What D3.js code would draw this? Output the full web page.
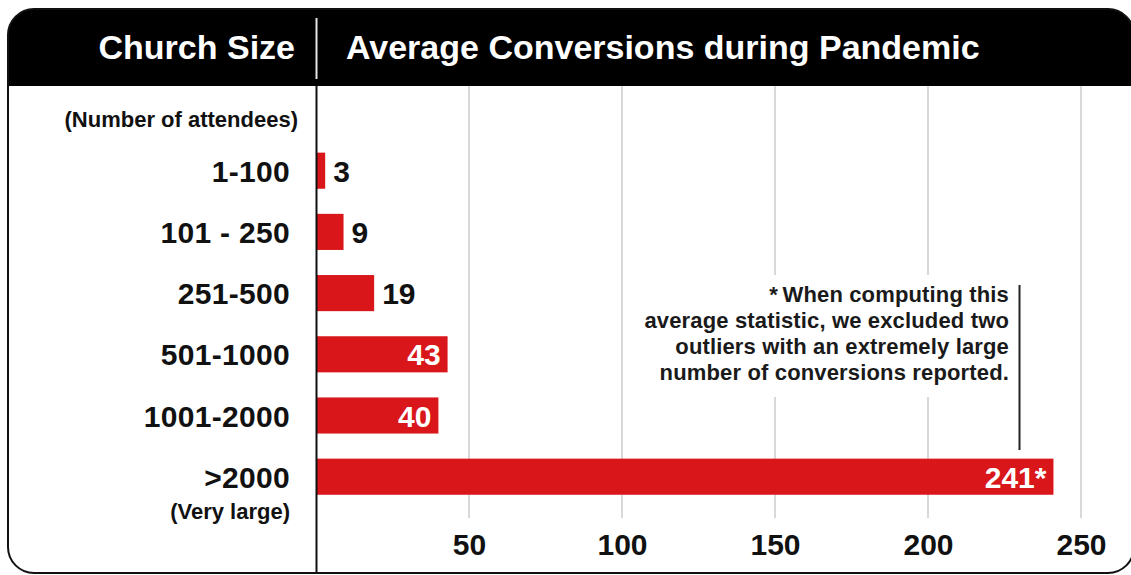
<!DOCTYPE html>
<html>
<head>
<meta charset="utf-8">
<script src="https://cdn.jsdelivr.net/npm/d3@7/dist/d3.min.js"></script>
<style>
  html, body { margin: 0; padding: 0; background: #fff; }
  svg { display: block; font-family: "Liberation Sans", Arial, Helvetica, sans-serif; }
</style>
</head>
<body>
<svg id="chart" width="1131" height="575"></svg>
<script>
// ---- data ----
const categories = ["1-100", "101 - 250", "251-500", "501-1000", "1001-2000", ">2000"];
const values = [3, 9, 19, 43, 40, 241];
const valueLabels = ["3", "9", "19", "43", "40", "241*"];
const labelInside = [false, false, false, true, true, true];
const tickValues = [50, 100, 150, 200, 250];
const headerLeft = "Church Size";
const headerRight = "Average Conversions during Pandemic";
const subLabelTop = "(Number of attendees)";
const subLabelBottom = "(Very large)";
const noteLines = [
  "*\u2009When computing this",
  "average statistic, we excluded two",
  "outliers with an extremely large",
  "number of conversions reported."
];

const RED = "#d9161a";
const svg = d3.select("#chart");

const x = d3.scaleLinear().domain([0, 250]).range([316, 1081]);
const y = d3.scaleBand().domain(categories).range([140.1, 507.3])
  .paddingInner(0.41).paddingOuter(0.205);

// outer frame
const boxX = 8, boxY = 9, boxW = 1126, boxH = 564, r = 26, headH = 77;
svg.append("defs").append("clipPath").attr("id", "boxclip")
  .append("rect").attr("x", boxX).attr("y", boxY).attr("width", boxW).attr("height", boxH).attr("rx", r);

const g = svg.append("g").attr("clip-path", "url(#boxclip)");
g.append("rect").attr("x", boxX).attr("y", boxY).attr("width", boxW).attr("height", boxH).attr("fill", "#fff");
// header band
g.append("rect").attr("x", boxX).attr("y", boxY).attr("width", boxW).attr("height", headH).attr("fill", "#000");

// gridlines
g.append("g").selectAll("line").data(tickValues).join("line")
  .attr("x1", d => x(d)).attr("x2", d => x(d))
  .attr("y1", boxY + headH).attr("y2", 518)
  .attr("stroke", "#cfcfcf").attr("stroke-width", 1.6);

// white backing for the note
g.append("rect").attr("x", 640).attr("y", 275).attr("width", 372).attr("height", 122).attr("fill", "#fff");

// bars
g.append("g").selectAll("rect").data(categories).join("rect")
  .attr("x", x(0))
  .attr("y", d => y(d))
  .attr("width", (d, i) => x(values[i]) - x(0))
  .attr("height", y.bandwidth())
  .attr("fill", RED);

// axis line
g.append("line").attr("x1", 316.5).attr("x2", 316.5).attr("y1", boxY + headH).attr("y2", 580)
  .attr("stroke", "#111").attr("stroke-width", 2);

// header divider
g.append("line").attr("x1", 316.5).attr("x2", 316.5).attr("y1", 18).attr("y2", 79)
  .attr("stroke", "#e6e6e6").attr("stroke-width", 2);

// header text
g.append("text").attr("x", 295).attr("y", 59).attr("text-anchor", "end")
  .attr("fill", "#fff").attr("font-weight", "bold").attr("font-size", 34)
  .text(headerLeft);
g.append("text").attr("x", 346).attr("y", 59).attr("text-anchor", "start")
  .attr("fill", "#fff").attr("font-weight", "bold").attr("font-size", 34)
  .text(headerRight);

// category labels
g.append("text").attr("x", 298).attr("y", 126.5).attr("text-anchor", "end")
  .attr("fill", "#111").attr("font-weight", "bold").attr("font-size", 22)
  .text(subLabelTop);
g.append("g").selectAll("text").data(categories).join("text")
  .attr("x", 290).attr("y", d => y(d) + y.bandwidth() / 2 + 11)
  .attr("text-anchor", "end").attr("fill", "#111")
  .attr("font-weight", "bold").attr("font-size", 30).attr("letter-spacing", 0.3)
  .text(d => d);
g.append("text").attr("x", 290).attr("y", y(">2000") + y.bandwidth() / 2 + 42)
  .attr("text-anchor", "end").attr("fill", "#111")
  .attr("font-weight", "bold").attr("font-size", 22)
  .text(subLabelBottom);

// value labels
g.append("g").selectAll("text").data(categories).join("text")
  .attr("x", (d, i) => labelInside[i] ? x(values[i]) - 7 : x(values[i]) + 8)
  .attr("y", d => y(d) + y.bandwidth() / 2 + 11)
  .attr("text-anchor", (d, i) => labelInside[i] ? "end" : "start")
  .attr("fill", (d, i) => labelInside[i] ? "#fff" : "#111")
  .attr("font-weight", "bold").attr("font-size", 30)
  .text((d, i) => valueLabels[i]);

// x axis tick labels
const axis = d3.axisBottom(x).tickValues(tickValues).tickSize(0).tickPadding(0);
const ax = g.append("g").attr("transform", "translate(0,534)").call(axis);
ax.select(".domain").remove();
ax.selectAll("text").attr("fill", "#111").attr("font-weight", "bold")
  .attr("font-size", 30).attr("dy", "0.71em")
  .attr("font-family", "\"Liberation Sans\", Arial, sans-serif");

// note
g.append("g").selectAll("text").data(noteLines).join("text")
  .attr("x", 1009).attr("y", (d, i) => 301.5 + i * 26.3)
  .attr("text-anchor", "end").attr("fill", "#1a1a1a")
  .attr("font-weight", "bold").attr("font-size", 22).attr("letter-spacing", 0.15)
  .text(d => d);
g.append("line").attr("x1", 1019.5).attr("x2", 1019.5).attr("y1", 285).attr("y2", 450)
  .attr("stroke", "#222").attr("stroke-width", 2);

// frame border
svg.append("rect").attr("x", boxX).attr("y", boxY).attr("width", boxW).attr("height", boxH).attr("rx", r)
  .attr("fill", "none").attr("stroke", "#111").attr("stroke-width", 2);
</script>
</body>
</html>
